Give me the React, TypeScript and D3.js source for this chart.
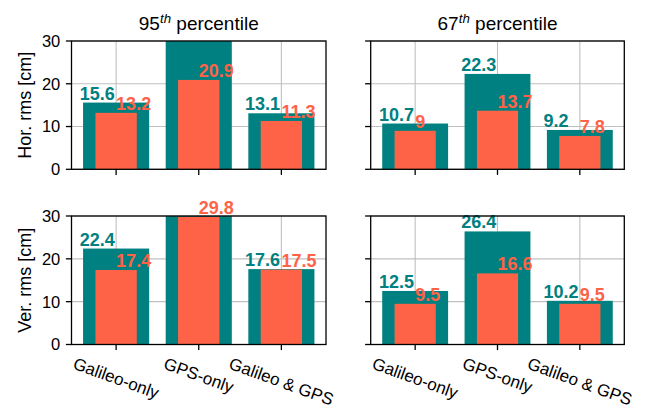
import React, { useRef, useEffect } from 'react';
import * as d3 from 'd3';

// categories on the x axis
const categories = ['Galileo-only', 'GPS-only', 'Galileo & GPS'];

// horizontal rms, 95th percentile (GPS-only teal bar is clipped above 30)
const hor95Teal = [15.6, 34.0, 13.1];
const hor95Orange = [13.2, 20.9, 11.3];
// horizontal rms, 67th percentile
const hor67Teal = [10.7, 22.3, 9.2];
const hor67Orange = [9, 13.7, 7.8];
// vertical rms, 95th percentile (GPS-only teal bar is clipped above 30)
const ver95Teal = [22.4, 34.0, 17.6];
const ver95Orange = [17.4, 29.8, 17.5];
// vertical rms, 67th percentile
const ver67Teal = [12.5, 26.4, 10.2];
const ver67Orange = [9.5, 16.6, 9.5];

const yTicks = [0, 10, 20, 30];
const percentiles = ['95', '67'];
const yLabels = ['Hor. rms [cm]', 'Ver. rms [cm]'];

const TEAL = '#008080';
const ORANGE = '#ff6347';
const FONT = '"Liberation Sans", Arial, sans-serif';

export default function App() {
    const svgRef = useRef<SVGSVGElement>(null);

    useEffect(() => {
        const svg = d3.select(svgRef.current);
        svg.selectAll('*').remove();

        const width = 648;
        const height = 413;
        svg.attr('width', width).attr('height', height);

        const cols = [[71.5, 326], [370.7, 624.3]];
        const rows = [[41, 169.3], [216, 344.5]];

        const panels = [
            { row: 0, col: 0, teal: hor95Teal, orange: hor95Orange },
            { row: 0, col: 1, teal: hor67Teal, orange: hor67Orange },
            { row: 1, col: 0, teal: ver95Teal, orange: ver95Orange },
            { row: 1, col: 1, teal: ver67Teal, orange: ver67Orange },
        ];

        const tickLen = 5.6;

        panels.forEach((p, idx) => {
            const [x0, x1] = cols[p.col];
            const [y0, y1] = rows[p.row];
            const x = d3.scaleLinear().domain([-0.54, 2.54]).range([x0, x1]);
            const y = d3.scaleLinear().domain([0, 30]).range([y1, y0]);
            const g = svg.append('g');

            const clipId = `clip-${idx}`;
            g.append('clipPath').attr('id', clipId)
                .append('rect')
                .attr('x', x0).attr('y', y0)
                .attr('width', x1 - x0).attr('height', y1 - y0);

            // grid
            const grid = g.append('g').attr('stroke', '#c0c0c0').attr('stroke-width', 1.1);
            yTicks.forEach(t => {
                grid.append('line').attr('x1', x0).attr('x2', x1)
                    .attr('y1', y(t)).attr('y2', y(t));
            });
            categories.forEach((_, i) => {
                grid.append('line').attr('x1', x(i)).attr('x2', x(i))
                    .attr('y1', y0).attr('y2', y1);
            });

            // bars
            const bars = g.append('g').attr('clip-path', `url(#${clipId})`);
            bars.selectAll('rect.teal').data(p.teal).enter().append('rect')
                .attr('x', (_, i) => x(i - 0.4))
                .attr('width', x(0.8) - x(0))
                .attr('y', d => y(d))
                .attr('height', d => y(0) - y(d))
                .attr('fill', TEAL);
            bars.selectAll('rect.orange').data(p.orange).enter().append('rect')
                .attr('x', (_, i) => x(i - 0.25))
                .attr('width', x(0.5) - x(0))
                .attr('y', d => y(d))
                .attr('height', d => y(0) - y(d))
                .attr('fill', ORANGE);

            // value labels (only those inside the y range are visible)
            p.teal.forEach((v, i) => {
                if (v > 30) return;
                g.append('text')
                    .attr('x', x(i - 0.44)).attr('y', y(v) - 3)
                    .attr('fill', TEAL).attr('font-weight', 'bold')
                    .attr('font-size', 18).attr('font-family', FONT)
                    .text(String(v));
            });
            p.orange.forEach((v, i) => {
                if (v > 30) return;
                g.append('text')
                    .attr('x', x(i)).attr('y', y(v) - 3)
                    .attr('fill', ORANGE).attr('font-weight', 'bold')
                    .attr('font-size', 18).attr('font-family', FONT)
                    .text(String(v));
            });

            // frame
            g.append('rect')
                .attr('x', x0).attr('y', y0)
                .attr('width', x1 - x0).attr('height', y1 - y0)
                .attr('fill', 'none').attr('stroke', '#000').attr('stroke-width', 1.3);

            // ticks
            const ticks = g.append('g').attr('stroke', '#000').attr('stroke-width', 1.3);
            yTicks.forEach(t => {
                ticks.append('line').attr('x1', x0 - tickLen).attr('x2', x0)
                    .attr('y1', y(t)).attr('y2', y(t));
            });
            categories.forEach((_, i) => {
                ticks.append('line').attr('x1', x(i)).attr('x2', x(i))
                    .attr('y1', y1).attr('y2', y1 + tickLen);
            });

            if (p.col === 0) {
                yTicks.forEach(t => {
                    g.append('text')
                        .attr('x', x0 - tickLen - 5.6).attr('y', y(t))
                        .attr('dy', '0.36em')
                        .attr('text-anchor', 'end')
                        .attr('font-size', 16.5).attr('font-family', FONT)
                        .text(String(t));
                });
                g.append('text')
                    .attr('transform', `translate(31,${(y0 + y1) / 2}) rotate(-90)`)
                    .attr('text-anchor', 'middle')
                    .attr('font-size', 18).attr('font-family', FONT)
                    .text(yLabels[p.row]);
            }

            if (p.row === 1) {
                const top = y1 + tickLen + 5;
                const angle = 20 * Math.PI / 180;
                categories.forEach((c, i) => {
                    const t = g.append('text')
                        .attr('text-anchor', 'middle')
                        .attr('dy', '0.35em')
                        .attr('font-size', 17).attr('font-family', FONT)
                        .text(c);
                    const w = (t.node() as SVGTextElement).getComputedTextLength();
                    const h = 16;
                    const bh = w * Math.sin(angle) + h * Math.cos(angle);
                    t.attr('transform', `translate(${x(i)},${top + bh / 2}) rotate(20)`);
                });
            }

            if (p.row === 0) {
                const title = g.append('text')
                    .attr('x', (x0 + x1) / 2).attr('y', 30)
                    .attr('text-anchor', 'middle')
                    .attr('font-size', 19).attr('font-family', FONT);
                title.append('tspan').text(percentiles[p.col]);
                title.append('tspan').attr('font-size', 13.3).attr('font-style', 'italic')
                    .attr('dy', -7).text('th');
                title.append('tspan').attr('dy', 7).text(' percentile');
            }
        });
    }, []);

    return (
        <div style={{ position: 'absolute', left: 0, top: 0 }}>
            <svg ref={svgRef}></svg>
        </div>
    );
}
